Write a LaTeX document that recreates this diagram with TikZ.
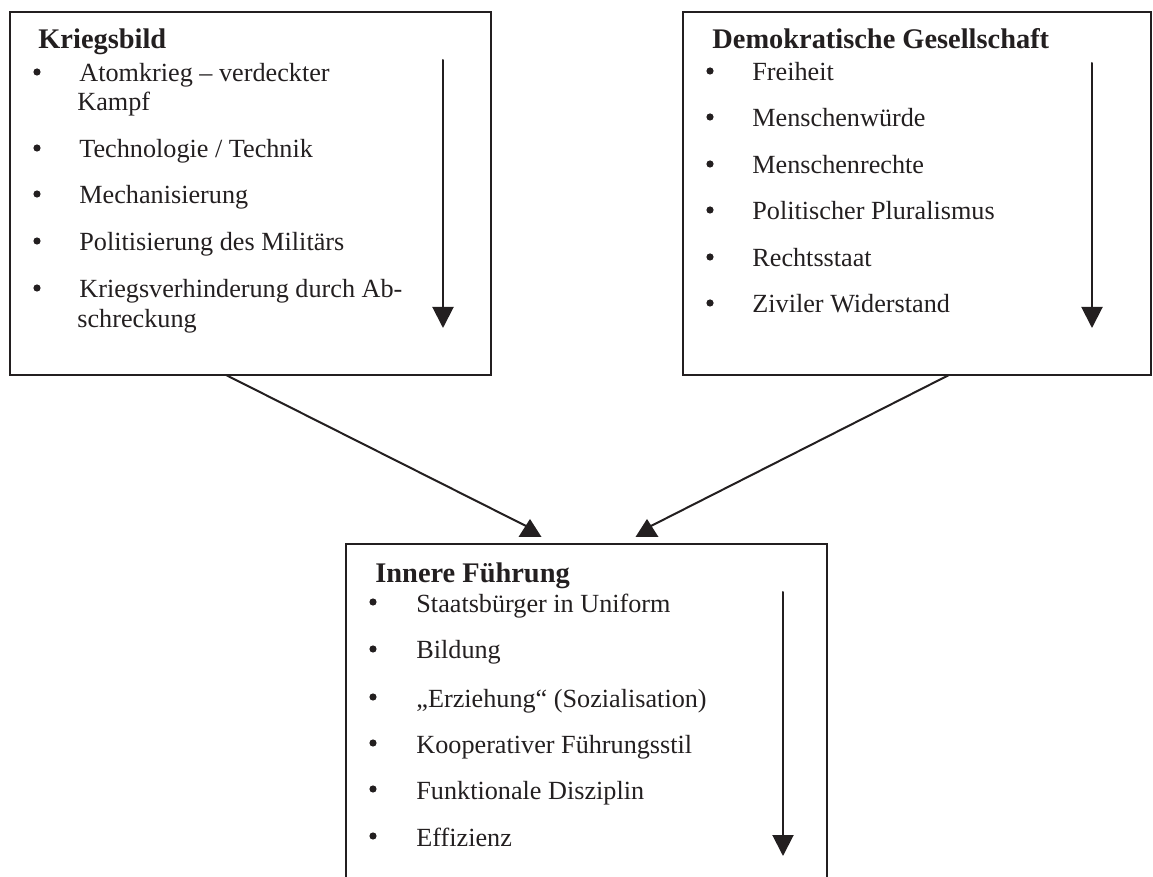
\documentclass[tikz,border=0pt]{standalone}
\usepackage{fontspec}
\setmainfont{Liberation Serif}
\usepackage{tikz}
\usetikzlibrary{calc,arrows.meta,positioning}
\definecolor{ink}{HTML}{231F20}
\tikzset{
  Panel/.style={
    draw=ink, line width=1.1pt,
    inner sep=0pt
  },
  Head/.style={
    anchor=base west, inner sep=0pt, text=ink,
    font=\fontsize{14.2}{16}\selectfont\bfseries
  },
  Item/.style={
    anchor=base west, inner sep=0pt, text=ink,
    font=\fontsize{13.1}{15}\selectfont
  },
  Dot/.style={
    circle, fill=ink, inner sep=0pt, minimum size=3.6pt
  },
  Flow/.style={
    draw=ink, line width=1pt,
    -{Triangle[width=10.5pt,length=10.5pt]}
  },
  Link/.style={draw=ink, line width=1pt}
}
\newcommand{\UpHead}[1]{%
  % #1 = coordinate in the middle of the upright head
  \fill[ink] ($(#1)+(-11.5,9)$) -- ($(#1)+(0,-9)$) -- ($(#1)+(11.5,9)$) -- cycle;
}

\begin{document}
\begin{tikzpicture}[x=0.5pt, y=-0.5pt, line cap=round, line join=miter]
  \useasboundingbox (0,0) rectangle (1153,877);
  \clip (0,0) rectangle (1153,877);

  % three panels
  \node[Panel, minimum width=240.5pt, minimum height=181.5pt] (KB) at (250.5,193.5) {};
  \node[Panel, minimum width=234pt, minimum height=181.5pt] (DG) at (917,193.5) {};
  \node[Panel, minimum width=240.5pt, minimum height=178pt] (IF) at (586.5,722) {};

  % Kriegsbild
  \node[Head] (KBt) at (38,49) {Kriegsbild};
  \node[Dot] (KBb1) at (37,72) {};
  \node[Item] (KB1) at (79,82) {Atomkrieg – verdeckter};
  \node[Item] (KB1b) at (77,111) {Kampf};
  \node[Dot] (KBb2) at (37,148) {};
  \node[Item] (KB2) at (79,158) {Technologie / Technik};
  \node[Dot] (KBb3) at (37,194) {};
  \node[Item] (KB3) at (79,204) {Mechanisierung};
  \node[Dot] (KBb4) at (37,241) {};
  \node[Item] (KB4) at (79,251) {Politisierung des Militärs};
  \node[Dot] (KBb5) at (37,288) {};
  \node[Item] (KB5) at (79,298) {Kriegsverhinderung durch Ab-};
  \node[Item] (KB5b) at (77,328) {schreckung};

  % Demokratische Gesellschaft
  \node[Head] (DGt) at (712,49) {Demokratische Gesellschaft};
  \node[Dot] (DGb1) at (710,71) {};
  \node[Item] (DG1) at (752,81) {Freiheit};
  \node[Dot] (DGb2) at (710,117) {};
  \node[Item] (DG2) at (752,127) {Menschenwürde};
  \node[Dot] (DGb3) at (710,164) {};
  \node[Item] (DG3) at (752,174) {Menschenrechte};
  \node[Dot] (DGb4) at (710,210) {};
  \node[Item] (DG4) at (752,220) {Politischer Pluralismus};
  \node[Dot] (DGb5) at (710,257) {};
  \node[Item] (DG5) at (752,267) {Rechtsstaat};
  \node[Dot] (DGb6) at (710,303) {};
  \node[Item] (DG6) at (752,313) {Ziviler Widerstand};

  % Innere Fuehrung
  \node[Head] (IFt) at (375,582) {Innere Führung};
  \node[Dot] (IFb1) at (373,602) {};
  \node[Item] (IF1) at (416,612) {Staatsbürger in Uniform};
  \node[Dot] (IFb2) at (373,649) {};
  \node[Item] (IF2) at (416,659) {Bildung};
  \node[Dot] (IFb3) at (373,697) {};
  \node[Item] (IF3) at (416,707) {„Erziehung“ (Sozialisation)};
  \node[Dot] (IFb4) at (373,743) {};
  \node[Item] (IF4) at (416,753) {Kooperativer Führungsstil};
  \node[Dot] (IFb5) at (373,789) {};
  \node[Item] (IF5) at (416,799) {Funktionale Disziplin};
  \node[Dot] (IFb6) at (373,836) {};
  \node[Item] (IF6) at (416,846) {Effizienz};

  % arrows inside the panels
  \coordinate (KBs) at (443,60);
  \coordinate (KBe) at (443,328);
  \coordinate (DGs) at (1092,63);
  \coordinate (DGe) at (1092,328);
  \coordinate (IFs) at (783,592);
  \coordinate (IFe) at (783,856);
  \draw[Flow] (KBs) -- (KBe);
  \draw[Flow] (DGs) -- (DGe);
  \draw[Flow] (IFs) -- (IFe);

  % links down to Innere Fuehrung
  \coordinate (KBo) at (226,375);
  \coordinate (DGo) at (949,375);
  \coordinate (L) at (530,528);
  \coordinate (R) at (647,528);
  \draw[Link] (KBo) -- (L);
  \draw[Link] (DGo) -- (R);
  \UpHead{L}
  \UpHead{R}
\end{tikzpicture}
\end{document}
